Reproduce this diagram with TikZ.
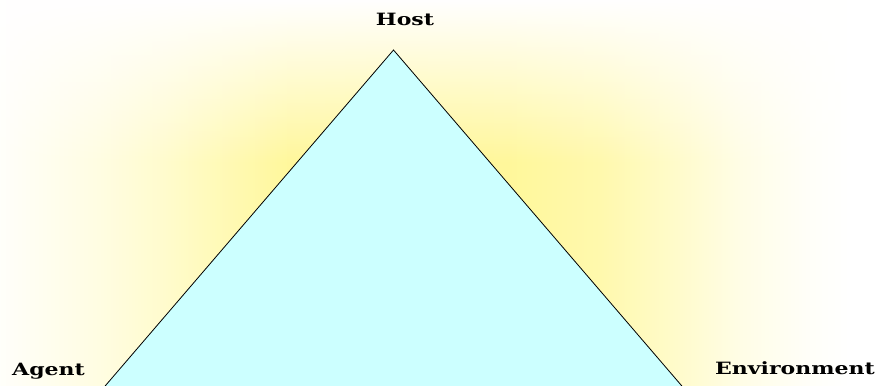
\documentclass[tikz,border=0pt]{standalone}
\usepackage{fontspec}
\setmainfont{DejaVu Serif}
\newfontfamily\lblfont[FakeStretch=1.3]{DejaVu Serif}
\usetikzlibrary{fadings}
\definecolor{yel}{RGB}{255,247,150}
\definecolor{cyanfill}{RGB}{204,255,255}
\pgfdeclarehorizontalshading{bgshade}{100bp}{%
  color(0bp)=(yel!5!white);
  color(25bp)=(yel!5!white);
  color(30.71bp)=(yel!28!white);
  color(34.42bp)=(yel!48!white);
  color(38.13bp)=(yel!72!white);
  color(41.55bp)=(yel!95!white);
  color(47.55bp)=(yel);
  color(54.11bp)=(yel!95!white);
  color(59.25bp)=(yel!78!white);
  color(63.81bp)=(yel!48!white);
  color(67.24bp)=(yel!24!white);
  color(71.23bp)=(yel!6!white);
  color(73.52bp)=(white);
  color(75bp)=(white);
  color(100bp)=(white)}
\tikzfading[name=topfade, top color=transparent!0, bottom color=transparent!100]
\tikzset{
  lbl/.style={font=\lblfont\fontsize{17}{20}\selectfont\bfseries, inner sep=0pt},
  tri/.style={draw=black, line width=0.8bp, fill=cyanfill}
}
\begin{document}
\begin{tikzpicture}[x=1bp,y=1bp]
\useasboundingbox (0,0) rectangle (876,385);
\clip (0,0) rectangle (876,385);
\fill[shading=bgshade] (0,0) rectangle (876,385);
\fill[white, path fading=topfade] (0,222) rectangle (876,385);
\coordinate (apex) at (393.5,335);
\coordinate (bl) at (97.4,-10);
\coordinate (br) at (689.6,-10);
\draw[tri] (apex) -- (bl) -- (br) -- cycle;
\node[lbl, anchor=base] (host) at (405,359.5) {Host};
\node[lbl, anchor=base west] (agent) at (12,10) {Agent};
\node[lbl, anchor=base east] (env) at (875,10.5) {Environment};
\end{tikzpicture}
\end{document}
